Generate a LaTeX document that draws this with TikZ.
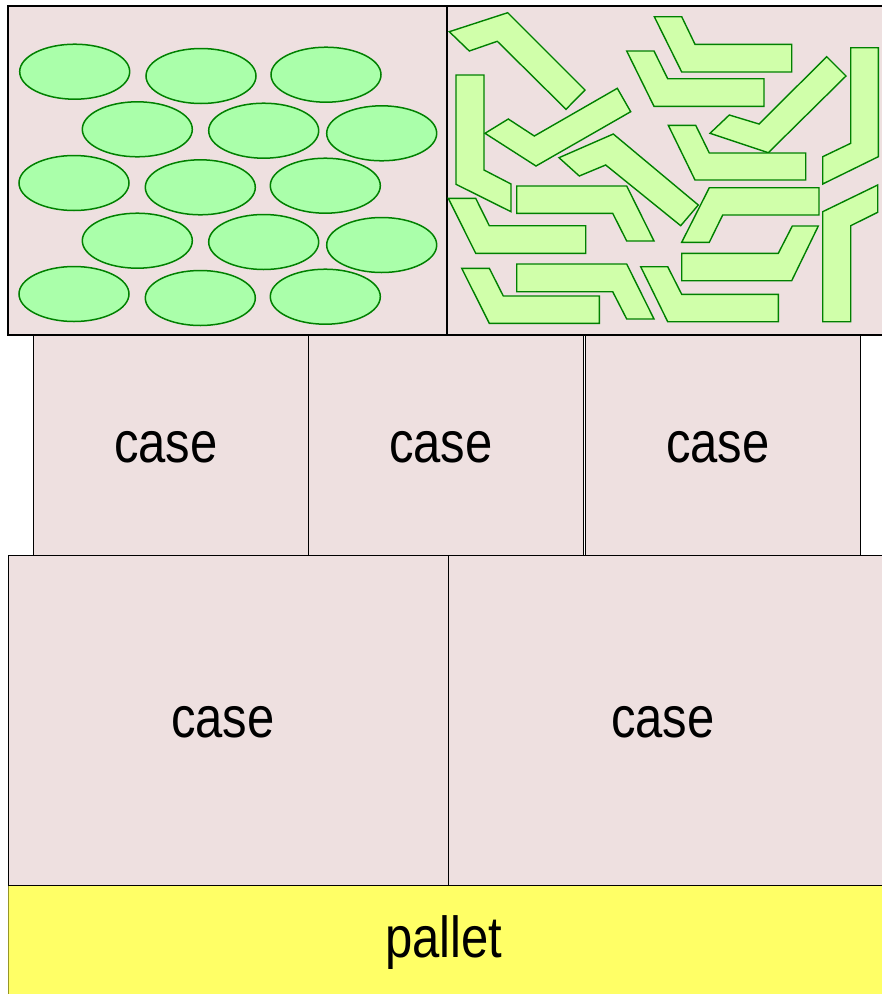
\documentclass[tikz,border=0pt]{standalone}
\usepackage{fontspec}
\setmainfont{Liberation Sans}
\usepackage{tikz}
\definecolor{casefill}{RGB}{238,224,224}
\definecolor{podfill}{RGB}{170,255,170}
\definecolor{bentfill}{RGB}{208,255,170}
\definecolor{podline}{RGB}{0,128,0}
\definecolor{palletfill}{RGB}{255,255,102}
\definecolor{palletline}{RGB}{150,150,40}
\tikzset{casebox/.style={draw,fill=casefill,line width=1.4pt,inner sep=0pt},
  label/.style={yscale=1.18,font=\fontsize{49}{58}\selectfont},
  pod/.style={draw=podline,fill=podfill,line width=1.5pt},
  bent/.style={draw=podline,fill=bentfill,line width=1.4pt,line join=miter}}

\begin{document}
\begin{tikzpicture}[x=1pt, y=-1pt]
    \useasboundingbox (0, 0) rectangle (882, 994);
    \clip (0, 0) rectangle (882, 994);

    \node [draw=palletline, fill=palletfill, line width=1pt, inner sep=0pt, minimum width=900pt, minimum height=120pt,
        anchor=north west] (pallet) at (8, 885) {};
    \node [label] (palletlabel) at (444, 943) {pallet};

    \node [casebox, minimum width=440pt, minimum height=330pt, anchor=north west] (case4) at (8, 555) {};
    \node [casebox, minimum width=450pt, minimum height=330pt, anchor=north west] (case5) at (448, 555) {};
    \node [label] (label4) at (223, 722) {case};
    \node [label] (label5) at (663, 722) {case};

    \node [casebox, minimum width=275pt, minimum height=220pt, anchor=north west] (case1) at (33, 335) {};
    \node [casebox, minimum width=275pt, minimum height=220pt, anchor=north west] (case2) at (308, 335) {};
    \node [casebox, minimum width=275pt, minimum height=220pt, anchor=north west] (case3) at (585, 335) {};
    \node [label] (label1) at (166, 447) {case};
    \node [label] (label2) at (441, 447) {case};
    \node [label] (label3) at (718, 447) {case};

    \draw [fill=casefill, line width=1.7pt] (8, 6) rectangle (447, 335);
    \draw [fill=casefill, line width=1.7pt] (447, 6) rectangle (900, 335);

    \draw [pod] (74.7, 71.7) ellipse [x radius=55, y radius=27.5];
    \draw [pod] (201, 76) ellipse [x radius=55, y radius=27.5];
    \draw [pod] (326, 74.7) ellipse [x radius=55, y radius=27.5];
    \draw [pod] (137.3, 129.3) ellipse [x radius=55, y radius=27.5];
    \draw [pod] (263.7, 130.7) ellipse [x radius=55, y radius=27.5];
    \draw [pod] (381.7, 133.3) ellipse [x radius=55, y radius=27.5];
    \draw [pod] (74, 183) ellipse [x radius=55, y radius=27.5];
    \draw [pod] (200.3, 187.3) ellipse [x radius=55, y radius=27.5];
    \draw [pod] (325.3, 185.7) ellipse [x radius=55, y radius=27.5];
    \draw [pod] (137.3, 240.7) ellipse [x radius=55, y radius=27.5];
    \draw [pod] (263.7, 242) ellipse [x radius=55, y radius=27.5];
    \draw [pod] (381.7, 245) ellipse [x radius=55, y radius=27.5];
    \draw [pod] (74, 294) ellipse [x radius=55, y radius=27.5];
    \draw [pod] (200.3, 298) ellipse [x radius=55, y radius=27.5];
    \draw [pod] (325.3, 296.7) ellipse [x radius=55, y radius=27.5];

    \draw [bent] (449.3, 31.7) -- (507.7, 12.7) -- (585, 90) -- (566, 109.3) -- (497.3, 41.3) -- (469.3, 51) -- cycle;
    \draw [bent] (654.3, 16.7) -- (681.7, 16.7) -- (695, 44.3) -- (791.7, 44.3) -- (791.7, 72) -- (681.7, 72) -- cycle;
    \draw [bent] (626.7, 51) -- (654, 51) -- (667.7, 78.7) -- (764, 78.7) -- (764, 106.3) -- (654, 106.3) -- cycle;
    \draw [bent] (456, 75) -- (484, 75) -- (484, 170) -- (511, 184) -- (511, 211.7) -- (456, 184.3) -- cycle;
    \draw [bent] (485, 133.3) -- (508.3, 119) -- (534.3, 136) -- (617.3, 88.3) -- (630.7, 111.7) -- (536, 166) -- cycle;
    \draw [bent] (559, 157.7) -- (613.3, 134) -- (698.3, 205) -- (680.7, 225.7) -- (605.7, 165) -- (579.3, 176) -- cycle;
    \draw [bent] (710, 133.3) -- (729.3, 115) -- (759, 124) -- (826.7, 56.7) -- (846, 76) -- (768.3, 152.7) -- cycle;
    \draw [bent] (850.7, 47.7) -- (878.3, 47.7) -- (878.3, 156.7) -- (822.7, 184) -- (822.7, 156.7) -- (850.7, 143.3) -- cycle;
    \draw [bent] (668.3, 125.3) -- (695.7, 125.3) -- (709.3, 153) -- (805.7, 153) -- (805.7, 180) -- (695, 180) -- cycle;
    \draw [bent] (516.7, 186) -- (626.7, 186) -- (654, 241) -- (626.7, 241) -- (612.7, 213.3) -- (516.7, 213.3) -- cycle;
    \draw [bent] (448.3, 198.3) -- (475.7, 198.3) -- (489.3, 225.7) -- (585.7, 225.7) -- (585.7, 253.3) -- (475.7, 253.3) -- cycle;
    \draw [bent] (709.3, 187.7) -- (819, 187.7) -- (819, 215) -- (722.7, 215) -- (709.3, 242.3) -- (681.7, 242.3) -- cycle;
    \draw [bent] (792.3, 226) -- (818.3, 226) -- (791.7, 280.7) -- (681.7, 280.7) -- (681.7, 253.3) -- (778.3, 253.3) -- cycle;
    \draw [bent] (822.7, 211.7) -- (877.7, 185) -- (877.7, 212.3) -- (850.7, 225.7) -- (850.7, 321.7) -- (822.7, 321.7) -- cycle;
    \draw [bent] (461.7, 268.3) -- (489.3, 268.3) -- (503.3, 296) -- (599.3, 296) -- (599.3, 323.3) -- (489.3, 323.3) -- cycle;
    \draw [bent] (516.7, 264) -- (626.7, 264) -- (654, 319) -- (626.7, 319) -- (612.7, 291.7) -- (516.7, 291.7) -- cycle;
    \draw [bent] (640.7, 266.7) -- (667.7, 266.7) -- (681.7, 294.3) -- (778.3, 294.3) -- (778.3, 321.7) -- (667.7, 321.7) -- cycle;
\end{tikzpicture}
\end{document}
